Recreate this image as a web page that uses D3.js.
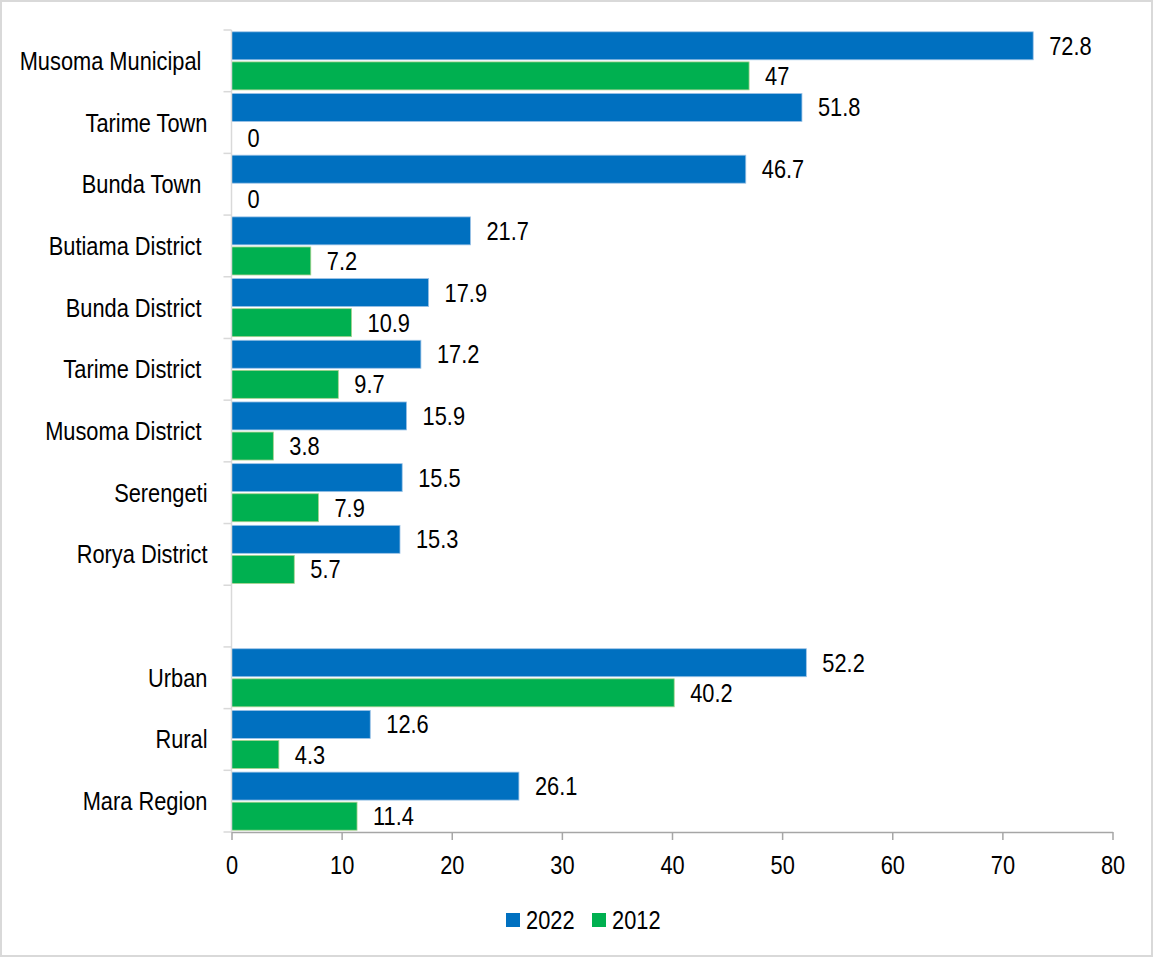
<!DOCTYPE html>
<html>
<head>
<meta charset="utf-8">
<script src="https://cdn.jsdelivr.net/npm/d3@7"></script>
<style>
  html, body { margin: 0; padding: 0; background: #fff; }
  svg { display: block; }
  text { white-space: pre; fill: #000; }
</style>
</head>
<body>
<div id="chart"></div>
<script>
// ---- data ----
const categories = ["Musoma Municipal ", "Tarime Town", "Bunda Town ", "Butiama District ", "Bunda District ",
  "Tarime District ", "Musoma District ", "Serengeti", "Rorya District", "", "Urban", "Rural", "Mara Region"];
const values2022 = [72.8, 51.8, 46.7, 21.7, 17.9, 17.2, 15.9, 15.5, 15.3, null, 52.2, 12.6, 26.1];
const values2012 = [47, 0, 0, 7.2, 10.9, 9.7, 3.8, 7.9, 5.7, null, 40.2, 4.3, 11.4];
const seriesNames = ["2022", "2012"];
const seriesColors = ["#0070c0", "#00b050"];
const xTicks = [0, 10, 20, 30, 40, 50, 60, 70, 80];

(function () {
// ---- font detection ----
function hasFont(name) {
  const c = document.createElement("canvas").getContext("2d");
  const s = "Musoma Municipal 0123";
  c.font = "26px monospace"; const a = c.measureText(s).width;
  c.font = "26px '" + name + "', monospace"; const b = c.measureText(s).width;
  return Math.abs(a - b) > 0.5;
}
const narrow = hasFont("Liberation Sans Narrow");
const FONT = narrow ? "'Liberation Sans Narrow', 'Liberation Sans', Arial, sans-serif" : "'Liberation Sans', Arial, sans-serif";
const SX = narrow ? 1 : 0.82;
const FS = 26.6;

const W = 1154, H = 957;
const svg = d3.select("#chart").append("svg").attr("width", W).attr("height", H)
  .style("font-family", FONT).style("font-size", FS + "px");

svg.append("rect").attr("x", 1).attr("y", 1).attr("width", W - 3).attr("height", H - 2)
  .attr("fill", "#fff").attr("stroke", "#d9d9d9").attr("stroke-width", 2);

const pLeft = 231.5, pRight = 1112.5, pTop = 30, pBottom = 832;
const x = d3.scaleLinear().domain([0, 80]).range([pLeft, pRight]);
const y = d3.scaleBand().domain(categories).range([pTop, pBottom]).padding(0);
const ys = d3.scaleBand().domain(seriesNames).range([0, y.bandwidth()]).paddingInner(0.07).paddingOuter(0.06);

function txt(g, s, tx, ty, anchor) {
  return g.append("text").attr("transform", `translate(${tx},${ty}) scale(${SX},1)`)
    .attr("text-anchor", anchor).text(s);
}

// bars
const rows = categories.map((c, i) => ({ c, vals: [values2022[i], values2012[i]] }));
const gBars = svg.append("g");
rows.forEach(r => {
  r.vals.forEach((v, j) => {
    if (v === null) return;
    const by = y(r.c) + ys(seriesNames[j]);
    if (v > 0) {
      gBars.append("rect").attr("x", x(0)).attr("y", by).attr("width", x(v) - x(0)).attr("height", ys.bandwidth())
        .attr("fill", seriesColors[j]).attr("stroke", j === 0 ? "#9dc3e6" : "#a9d18e").attr("stroke-width", 0.8);
    }
    txt(gBars, String(v), x(v) + 16, by + ys.bandwidth() / 2 + 9, "start");
  });
});

// y axis
const gy = svg.append("g");
gy.append("line").attr("x1", pLeft).attr("x2", pLeft).attr("y1", pTop).attr("y2", pBottom)
  .attr("stroke", "#d9d9d9").attr("stroke-width", 1.5);
const bounds = categories.map(c => y(c)).concat([pBottom]);
gy.selectAll("line.t").data(bounds).join("line").attr("class", "t")
  .attr("x1", pLeft - 8).attr("x2", pLeft).attr("y1", d => d).attr("y2", d => d)
  .attr("stroke", "#d9d9d9").attr("stroke-width", 1.5);
categories.forEach(c => {
  if (c === "") return;
  txt(gy, c, 207.5, y(c) + y.bandwidth() / 2 + 9, "end");
});

// x axis
const gx = svg.append("g").attr("transform", `translate(0,${pBottom})`)
  .call(d3.axisBottom(x).tickValues(xTicks).tickSize(8).tickSizeOuter(0).tickFormat(d3.format("d")));
gx.select(".domain").attr("stroke", "#a6a6a6").attr("stroke-width", 1.5);
gx.selectAll(".tick line").attr("stroke", "#a6a6a6").attr("stroke-width", 1.5);
gx.selectAll(".tick text").attr("font-size", FS).attr("font-family", FONT).attr("fill", "#000")
  .attr("y", 0).attr("dy", 0).attr("transform", `translate(0,42) scale(${SX},1)`);

// legend
const lg = svg.append("g");
const legX = [506, 592];
seriesNames.forEach((s, i) => {
  lg.append("rect").attr("x", legX[i]).attr("y", 913).attr("width", 14).attr("height", 14).attr("fill", seriesColors[i]);
  txt(lg, s, legX[i] + 20, 929, "start");
});
})();
</script>
</body>
</html>
